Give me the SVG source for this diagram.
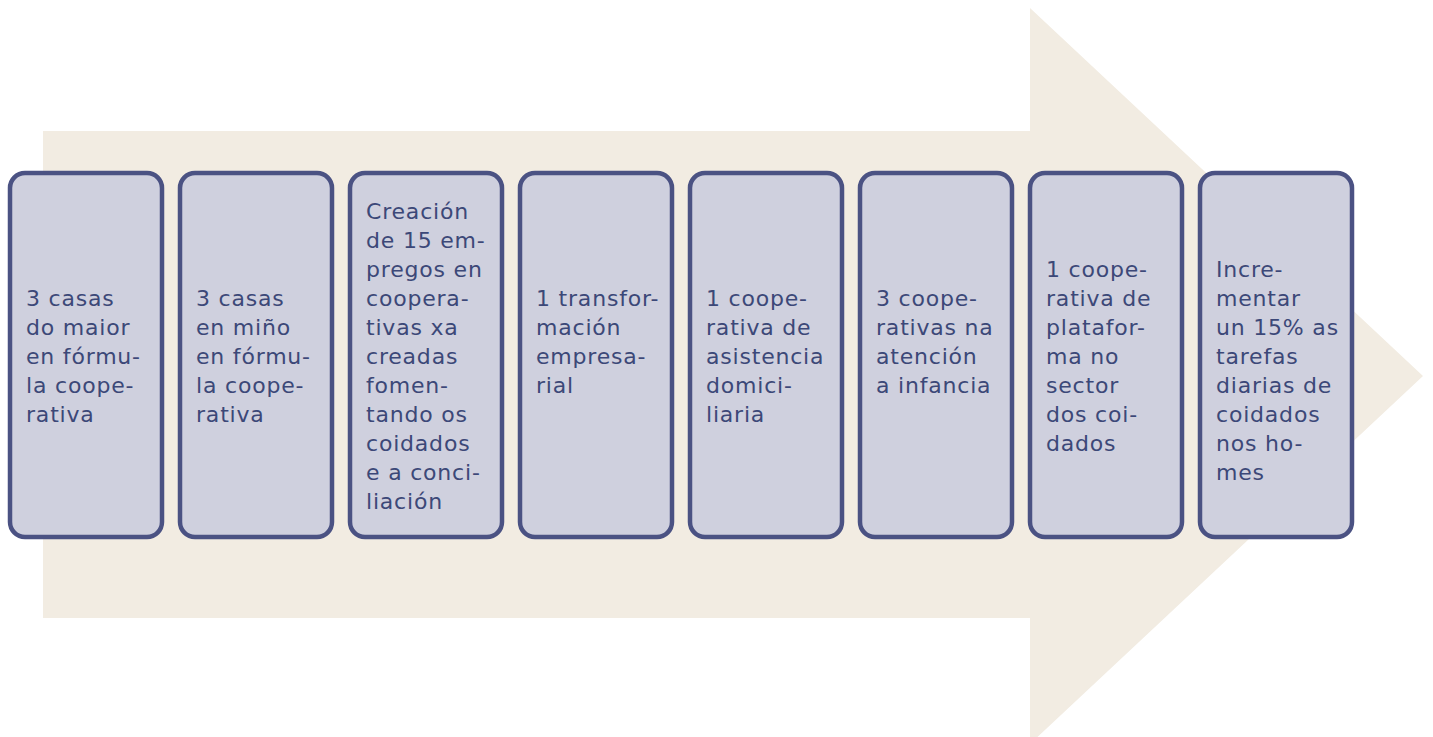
<svg xmlns="http://www.w3.org/2000/svg" width="1433" height="737" viewBox="0 0 1433 737">
<style>
.box{fill:#cfd0de;stroke:#4b5283;stroke-width:4.5}
.t{font-family:"DejaVu Sans",sans-serif;font-size:22px;letter-spacing:0.8px;fill:#3c4878}
</style>
<rect width="1433" height="737" fill="#ffffff"/>
<g id="arrow">
<polygon points="43,131 1030,131 1030,8 1423,376 1030,744 1030,618 43,618" fill="#f2ece2"/>
</g>
<g id="connectors"></g>
<g id="n1"><rect class="box" x="10" y="173" width="152" height="364" rx="15"/>
<text class="t" x="26" y="306">3 casas<tspan x="26" dy="29">do maior</tspan><tspan x="26" dy="29">en fórmu-</tspan><tspan x="26" dy="29">la coope-</tspan><tspan x="26" dy="29">rativa</tspan></text></g>
<g id="n2"><rect class="box" x="180" y="173" width="152" height="364" rx="15"/>
<text class="t" x="196" y="306">3 casas<tspan x="196" dy="29">en miño</tspan><tspan x="196" dy="29">en fórmu-</tspan><tspan x="196" dy="29">la coope-</tspan><tspan x="196" dy="29">rativa</tspan></text></g>
<g id="n3"><rect class="box" x="350" y="173" width="152" height="364" rx="15"/>
<text class="t" x="366" y="219">Creación<tspan x="366" dy="29">de 15 em-</tspan><tspan x="366" dy="29">pregos en</tspan><tspan x="366" dy="29">coopera-</tspan><tspan x="366" dy="29">tivas xa</tspan><tspan x="366" dy="29">creadas</tspan><tspan x="366" dy="29">fomen-</tspan><tspan x="366" dy="29">tando os</tspan><tspan x="366" dy="29">coidados</tspan><tspan x="366" dy="29">e a conci-</tspan><tspan x="366" dy="29">liación</tspan></text></g>
<g id="n4"><rect class="box" x="520" y="173" width="152" height="364" rx="15"/>
<text class="t" x="536" y="306">1 transfor-<tspan x="536" dy="29">mación</tspan><tspan x="536" dy="29">empresa-</tspan><tspan x="536" dy="29">rial</tspan></text></g>
<g id="n5"><rect class="box" x="690" y="173" width="152" height="364" rx="15"/>
<text class="t" x="706" y="306">1 coope-<tspan x="706" dy="29">rativa de</tspan><tspan x="706" dy="29">asistencia</tspan><tspan x="706" dy="29">domici-</tspan><tspan x="706" dy="29">liaria</tspan></text></g>
<g id="n6"><rect class="box" x="860" y="173" width="152" height="364" rx="15"/>
<text class="t" x="876" y="306">3 coope-<tspan x="876" dy="29">rativas na</tspan><tspan x="876" dy="29">atención</tspan><tspan x="876" dy="29">a infancia</tspan></text></g>
<g id="n7"><rect class="box" x="1030" y="173" width="152" height="364" rx="15"/>
<text class="t" x="1046" y="277">1 coope-<tspan x="1046" dy="29">rativa de</tspan><tspan x="1046" dy="29">platafor-</tspan><tspan x="1046" dy="29">ma no</tspan><tspan x="1046" dy="29">sector</tspan><tspan x="1046" dy="29">dos coi-</tspan><tspan x="1046" dy="29">dados</tspan></text></g>
<g id="n8"><rect class="box" x="1200" y="173" width="152" height="364" rx="15"/>
<text class="t" x="1216" y="277">Incre-<tspan x="1216" dy="29">mentar</tspan><tspan x="1216" dy="29">un 15% as</tspan><tspan x="1216" dy="29">tarefas</tspan><tspan x="1216" dy="29">diarias de</tspan><tspan x="1216" dy="29">coidados</tspan><tspan x="1216" dy="29">nos ho-</tspan><tspan x="1216" dy="29">mes</tspan></text></g>
</svg>
